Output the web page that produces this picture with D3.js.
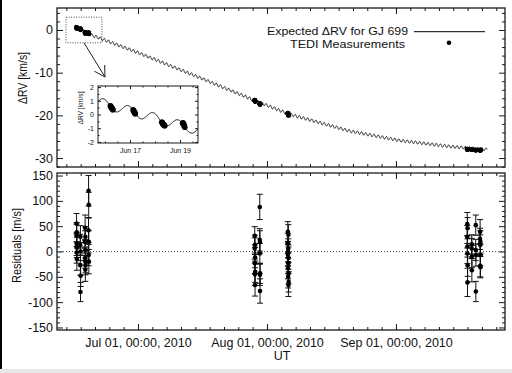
<!DOCTYPE html>
<html>
<head>
<meta charset="utf-8">
<script src="https://cdn.jsdelivr.net/npm/d3@7"></script>
<style>
  body { margin: 0; background: #fff; }
  svg { display: block; font-family: "Liberation Sans", Arial, Helvetica, sans-serif; font-size: 12.5px; }
</style>
</head>
<body>
<div id="app"></div>
<script>
const W = 512, H = 373;
const parse = d3.utcParse('%Y-%m-%dT%H:%M');

// smooth part of the expected RV curve (km/s)
const trendTimes = ['2010-06-15T20:00', '2010-06-17T17:00', '2010-06-19T17:00', '2010-07-01T00:00',
  '2010-07-15T22:00', '2010-07-30T07:00', '2010-08-06T07:00', '2010-08-21T00:00',
  '2010-09-02T00:00', '2010-09-14T00:00', '2010-09-22T22:00'];
const trendKms = [0.85, -0.1, -1.15, -5.3, -11.2, -17.0, -19.7, -23.7, -25.9, -27.3, -28.0];
// daily wiggle (earth rotation)
const diurnalAmpKms = 0.35;
const diurnalPeak = '2010-06-15T22:30';
const siderealDay = 0.99727;

// TEDI nights: first exposure, cadence, residuals and errors (m/s)
const nights = ['2010-06-16T05:10', '2010-06-17T03:00', '2010-06-18T06:30', '2010-06-19T02:30',
  '2010-07-29T01:00', '2010-07-30T06:00', '2010-08-06T00:00',
  '2010-09-18T03:00', '2010-09-19T05:00', '2010-09-20T04:00', '2010-09-21T05:00'];
const cadenceMin = 25;
const residuals = [
  [32, 55, -2, 15, 38, -15, 8],
  [13, -27, 29, -80, 0, -48],
  [19, 47, -13, 3, -36, 29, -20, -27],
  [42, 120, -7, 92, 19, -20],
  [6, 31, -23, -45, 13, -66, -12, -40],
  [23, 88, -4, -46, 19, -78, -43],
  [16, 39, -7, -33, 0, -50, 6, -23, 33, -66, -13, -43, -60],
  [29, 54, -4, 10, -61, 46, -27],
  [6, 14, -37, -10],
  [3, 52, -79, -7],
  [25, 39, -28, 13, -7, 19, -31]
];
const errors = [
  [22, 20, 21, 23, 19, 22, 20],
  [21, 20, 22, 19, 18, 21],
  [22, 25, 20, 21, 23, 20, 22, 19],
  [24, 30, 21, 25, 22, 24],
  [21, 18, 20, 22, 19, 22, 20, 21],
  [22, 25, 20, 21, 22, 24, 20],
  [20, 20, 22, 21, 20, 22, 19, 21, 20, 23, 22, 21, 20],
  [22, 23, 20, 21, 28, 21, 22],
  [20, 19, 23, 22],
  [21, 20, 20, 22],
  [21, 24, 22, 20, 21, 22, 21]
];

const xDomain = ['2010-06-11T12:45', '2010-09-27T05:00'];
const topKmsDomain = [-32.1, 5.15];
const topTicks = [-30, -20, -10, 0];
const resDomain = [-155, 155];
const resTicks = [-150, -100, -50, 0, 50, 100, 150];
const zoomTimes = ['2010-06-13T17:00', '2010-06-22T08:00'];
const zoomKms = [-3, 3];
const insetTimes = ['2010-06-15T17:17', '2010-06-19T17:17'];
const insetKmsDomain = [-2.08, 2.08];
const insetTicks = [-2, -1, 0, 1, 2];
const insetDays = ['2010-06-17T00:00', '2010-06-19T00:00'];
const legendLabels = ['Expected ΔRV for GJ 699', 'TEDI Measurements'];

// ---- model
const trendScale = d3.scaleUtc().domain(trendTimes.map(parse)).range(trendKms).clamp(true);
const peak0 = parse(diurnalPeak);
function model(t) {
  const days = (t - peak0) / 864e5;
  return trendScale(t) + diurnalAmpKms * Math.cos(2 * Math.PI * days / siderealDay);
}
const curveT = d3.utcMinute.every(15).range(parse(trendTimes[0]), parse(trendTimes[trendTimes.length - 1]));

const obs = [];
nights.forEach((n, i) => {
  residuals[i].forEach((r, j) => {
    const t = d3.utcMinute.offset(parse(n), j * cadenceMin);
    obs.push({ t, res: r, err: errors[i][j], kms: model(t) + r / 1000 });
  });
});

const svg = d3.select('#app').append('svg').attr('width', W).attr('height', H);
svg.append('rect').attr('width', W).attr('height', H).attr('fill', '#fff');
svg.append('rect').attr('x', 0).attr('y', 0).attr('width', 2).attr('height', 369).attr('fill', '#000');
svg.append('rect').attr('x', 0).attr('y', 369).attr('width', W).attr('height', 4).attr('fill', '#e6e6e6');

const x = d3.scaleUtc().domain(xDomain.map(parse)).range([57, 505]);
const yTop = d3.scaleLinear().domain(topKmsDomain).range([167, 8]);
const yRes = d3.scaleLinear().domain(resDomain).range([330, 173]);

const xMajor = d3.utcMonth.range(x.domain()[0], x.domain()[1]);
const xMinor = d3.range(-12, 40).map(k => new Date(+xMajor[0] + k * 31 / 9 * 864e5))
  .filter(d => d > x.domain()[0] && d < x.domain()[1]);

function tickAxis(g, axisFn, scale, values, size, pos, isX, fmt, pad) {
  const a = axisFn(scale).tickValues(values).tickSize(-size).tickSizeOuter(0)
    .tickPadding(pad || 4).tickFormat(fmt || (() => ''));
  const ag = g.append('g')
    .attr('transform', isX ? `translate(0,${pos})` : `translate(${pos},0)`)
    .call(a);
  ag.select('.domain').remove();
  ag.attr('font-family', null).attr('font-size', null);
  ag.selectAll('line').attr('stroke', '#1a1a1a').attr('stroke-width', 1);
  ag.selectAll('text').attr('fill', '#111');
  return ag;
}

function frame(y, yMajor, yMinorStep, xLabels) {
  const [x0, x1] = x.range();
  const [y1, y0] = y.range();
  const yMinor = d3.range(Math.ceil(y.domain()[0] / yMinorStep) * yMinorStep, y.domain()[1], yMinorStep)
    .filter(v => !yMajor.includes(v));
  const g = svg.append('g');
  tickAxis(g, d3.axisLeft, y, yMajor, 6, x0, false, d => String(d), 4);
  tickAxis(g, d3.axisLeft, y, yMinor, 3, x0, false);
  tickAxis(g, d3.axisRight, y, yMajor, 6, x1, false);
  tickAxis(g, d3.axisRight, y, yMinor, 3, x1, false);
  tickAxis(g, d3.axisBottom, x, xMajor, 6, y1, true, xLabels ? d3.utcFormat('%b %d, %H:%M, %Y') : null, 8);
  tickAxis(g, d3.axisBottom, x, xMinor, 3, y1, true);
  tickAxis(g, d3.axisTop, x, xMajor, 6, y0, true);
  tickAxis(g, d3.axisTop, x, xMinor, 3, y0, true);
  g.append('rect').attr('x', x0).attr('y', y0).attr('width', x1 - x0).attr('height', y1 - y0)
    .attr('fill', 'none').attr('stroke', '#1a1a1a').attr('stroke-width', 1.3);
  return g;
}

// ---- top panel
svg.append('clipPath').attr('id', 'clipTop').append('rect')
  .attr('x', 57).attr('y', 8).attr('width', 448).attr('height', 159);
const line = d3.line().x(t => x(t)).y(t => yTop(model(t)));
svg.append('path').datum(curveT).attr('d', line).attr('clip-path', 'url(#clipTop)')
  .attr('fill', 'none').attr('stroke', '#000').attr('stroke-width', 0.9);
svg.append('g').selectAll('circle').data(obs).join('circle')
  .attr('cx', d => x(d.t)).attr('cy', d => yTop(d.kms)).attr('r', 2.4).attr('fill', '#000');
frame(yTop, topTicks, 2, false);

// zoom box + arrow
const zx0 = x(parse(zoomTimes[0])), zx1 = x(parse(zoomTimes[1]));
const zy0 = yTop(zoomKms[1]), zy1 = yTop(zoomKms[0]);
svg.append('rect').attr('x', zx0).attr('y', zy0).attr('width', zx1 - zx0).attr('height', zy1 - zy0)
  .attr('fill', 'none').attr('stroke', '#333').attr('stroke-width', 0.9).attr('stroke-dasharray', '1,1.5');

// ---- inset
const ix = d3.scaleUtc().domain(insetTimes.map(parse)).range([98, 198]);
const iy = d3.scaleLinear().domain(insetKmsDomain).range([143, 86]);
const ax0 = zx0 + (zx1 - zx0) * 0.5, ay0 = zy1;
const tipX = ix.range()[0] + 7, tipY = iy.range()[1] - 9;
const ang = Math.atan2(tipY - ay0, tipX - ax0);
const head = 12;
svg.append('path')
  .attr('d', `M${ax0},${ay0}L${tipX},${tipY}` +
    `M${tipX + head * Math.cos(ang + Math.PI - 0.52)},${tipY + head * Math.sin(ang + Math.PI - 0.52)}L${tipX},${tipY}` +
    `L${tipX + head * Math.cos(ang + Math.PI + 0.52)},${tipY + head * Math.sin(ang + Math.PI + 0.52)}`)
  .attr('fill', 'none').attr('stroke', '#222').attr('stroke-width', 1);

const inset = svg.append('g').attr('font-size', '7px');
inset.append('rect').attr('x', 98).attr('y', 86).attr('width', 100).attr('height', 57).attr('fill', '#fff');
svg.append('clipPath').attr('id', 'clipInset').append('rect')
  .attr('x', 98).attr('y', 86).attr('width', 100).attr('height', 57);
const insetLine = d3.line().x(t => ix(t)).y(t => iy(model(t)));
const insetT = d3.utcMinute.every(5).range(ix.domain()[0], ix.domain()[1]);
inset.append('path').datum(insetT).attr('d', insetLine).attr('clip-path', 'url(#clipInset)')
  .attr('fill', 'none').attr('stroke', '#000').attr('stroke-width', 1);
inset.append('g').attr('clip-path', 'url(#clipInset)').selectAll('circle')
  .data(obs.filter(d => d.t >= ix.domain()[0] && d.t <= ix.domain()[1])).join('circle')
  .attr('cx', d => ix(d.t)).attr('cy', d => iy(d.kms)).attr('r', 2.8).attr('fill', '#000');
const iMajorX = insetDays.map(parse);
const iMinorX = d3.utcHour.every(12).range(ix.domain()[0], ix.domain()[1]).filter(d => !iMajorX.some(m => +m === +d));
const iMinorY = d3.range(-2, 2.01, 0.5).filter(v => !insetTicks.includes(v));
tickAxis(inset, d3.axisLeft, iy, insetTicks, 3, 98, false, d => String(d), 4);
tickAxis(inset, d3.axisLeft, iy, iMinorY, 1.5, 98, false);
tickAxis(inset, d3.axisRight, iy, insetTicks, 3, 198, false);
tickAxis(inset, d3.axisRight, iy, iMinorY, 1.5, 198, false);
tickAxis(inset, d3.axisBottom, ix, iMajorX, 3, 143, true, d3.utcFormat('%b %d'), 5.5);
tickAxis(inset, d3.axisBottom, ix, iMinorX, 1.5, 143, true);
tickAxis(inset, d3.axisTop, ix, iMajorX, 3, 86, true);
tickAxis(inset, d3.axisTop, ix, iMinorX, 1.5, 86, true);
inset.append('rect').attr('x', 98).attr('y', 86).attr('width', 100).attr('height', 57)
  .attr('fill', 'none').attr('stroke', '#1a1a1a').attr('stroke-width', 1);
inset.append('text').attr('transform', 'translate(82.5,108) rotate(-90)')
  .attr('text-anchor', 'middle').attr('textLength', 33).attr('lengthAdjust', 'spacingAndGlyphs')
  .attr('fill', '#111').text('ΔRV [km/s]');

// legend
const legend = svg.append('g').attr('fill', '#111').attr('font-size', '11px');
legend.append('text').attr('x', 408).attr('y', 35.3).attr('text-anchor', 'end')
  .attr('textLength', 141).attr('lengthAdjust', 'spacingAndGlyphs').text(legendLabels[0]);
legend.append('text').attr('x', 405).attr('y', 47.6).attr('text-anchor', 'end')
  .attr('textLength', 115).attr('lengthAdjust', 'spacingAndGlyphs').text(legendLabels[1]);
legend.append('line').attr('x1', 414).attr('x2', 485).attr('y1', 31.7).attr('y2', 31.7)
  .attr('stroke', '#000').attr('stroke-width', 1);
legend.append('circle').attr('cx', 449).attr('cy', 42.7).attr('r', 2.3).attr('fill', '#000');

// ---- residual panel
svg.append('line').attr('x1', 57).attr('x2', 505).attr('y1', yRes(0)).attr('y2', yRes(0))
  .attr('stroke', '#555').attr('stroke-width', 1).attr('stroke-dasharray', '1,2');
const eb = svg.append('g').attr('stroke', '#111').attr('stroke-width', 1);
obs.forEach(d => {
  const cx = x(d.t);
  eb.append('line').attr('x1', cx).attr('x2', cx).attr('y1', yRes(d.res - d.err)).attr('y2', yRes(d.res + d.err));
  eb.append('line').attr('x1', cx - 3).attr('x2', cx + 3).attr('y1', yRes(d.res - d.err)).attr('y2', yRes(d.res - d.err));
  eb.append('line').attr('x1', cx - 3).attr('x2', cx + 3).attr('y1', yRes(d.res + d.err)).attr('y2', yRes(d.res + d.err));
});
svg.append('g').selectAll('circle').data(obs).join('circle')
  .attr('cx', d => x(d.t)).attr('cy', d => yRes(d.res)).attr('r', 2.3).attr('fill', '#000');
frame(yRes, resTicks, 10, true);

// titles
svg.append('text').attr('transform', 'translate(26.5,78) rotate(-90)').attr('text-anchor', 'middle')
  .attr('textLength', 52).attr('lengthAdjust', 'spacingAndGlyphs').attr('fill', '#111').text('ΔRV [km/s]');
svg.append('text').attr('transform', 'translate(20.5,245.5) rotate(-90)').attr('text-anchor', 'middle')
  .attr('textLength', 75).attr('lengthAdjust', 'spacingAndGlyphs').attr('fill', '#111').text('Residuals [m/s]');
svg.append('text').attr('x', 282).attr('y', 360).attr('text-anchor', 'middle').attr('fill', '#111').text('UT');
</script>
</body>
</html>
